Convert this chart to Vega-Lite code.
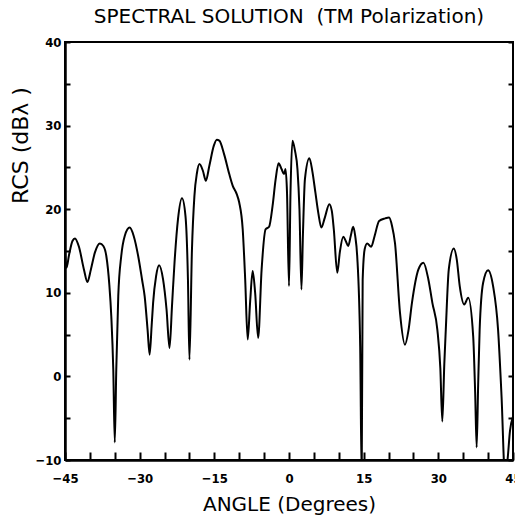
{
  "$schema": "https://vega.github.io/schema/vega-lite/v6.json",
  "width": 448,
  "height": 418,
  "autosize": {"type": "none"},
  "padding": {"left": 65, "top": 42, "right": 2, "bottom": 59},
  "background": "white",
  "title": {
    "text": "SPECTRAL SOLUTION \u00a0(TM Polarization)",
    "font": "DejaVu Sans",
    "fontSize": 20,
    "fontWeight": "normal",
    "color": "black",
    "anchor": "middle",
    "offset": 9
  },
  "config": {
    "view": {"stroke": "black", "strokeWidth": 2},
    "axis": {
      "domainColor": "black",
      "domainWidth": 2.5,
      "tickColor": "black",
      "tickWidth": 2,
      "grid": false,
      "labelColor": "black",
      "titleColor": "black",
      "labelFont": "DejaVu Sans Condensed, sans-serif",
      "labelFontWeight": "bold",
      "labelFontSize": 13,
      "titleFont": "DejaVu Sans",
      "titleFontWeight": "normal"
    }
  },
  "data": {
    "values": [
      {"angle": -45, "rcs": 14.8}, {"angle": -44.7, "rcs": 13.0}, {"angle": -44.2, "rcs": 14.5},
      {"angle": -43.5, "rcs": 16.2}, {"angle": -43, "rcs": 16.5}, {"angle": -42.2, "rcs": 15.5},
      {"angle": -41.2, "rcs": 12.8}, {"angle": -40.5, "rcs": 11.3}, {"angle": -39.8, "rcs": 12.8},
      {"angle": -39, "rcs": 14.8}, {"angle": -38, "rcs": 15.9}, {"angle": -37.3, "rcs": 15.6},
      {"angle": -36.7, "rcs": 14.4}, {"angle": -36.1, "rcs": 11.0}, {"angle": -35.7, "rcs": 7.2},
      {"angle": -35.3, "rcs": 0.8}, {"angle": -35, "rcs": -7.9}, {"angle": -34.7, "rcs": 0.8},
      {"angle": -34.3, "rcs": 9.6}, {"angle": -33.7, "rcs": 14.4}, {"angle": -33, "rcs": 16.8},
      {"angle": -32, "rcs": 17.8}, {"angle": -31.2, "rcs": 16.8}, {"angle": -30.3, "rcs": 14.4},
      {"angle": -29.5, "rcs": 11.5}, {"angle": -29, "rcs": 9.6}, {"angle": -28.4, "rcs": 5.5},
      {"angle": -28, "rcs": 2.6}, {"angle": -27.6, "rcs": 6.0}, {"angle": -27.3, "rcs": 8.8},
      {"angle": -26.7, "rcs": 12.0}, {"angle": -26.1, "rcs": 13.3}, {"angle": -25.3, "rcs": 11.6},
      {"angle": -24.6, "rcs": 8.0}, {"angle": -24, "rcs": 3.4}, {"angle": -23.5, "rcs": 8.5},
      {"angle": -23, "rcs": 13.6}, {"angle": -22.3, "rcs": 18.8}, {"angle": -21.5, "rcs": 21.3},
      {"angle": -20.8, "rcs": 19.2}, {"angle": -20.3, "rcs": 11.6}, {"angle": -20, "rcs": 2.0},
      {"angle": -19.5, "rcs": 15.1}, {"angle": -19, "rcs": 21.6}, {"angle": -18.5, "rcs": 24.3},
      {"angle": -18, "rcs": 25.4}, {"angle": -17.3, "rcs": 24.6}, {"angle": -16.7, "rcs": 23.4},
      {"angle": -16, "rcs": 25.2}, {"angle": -15.1, "rcs": 27.6}, {"angle": -14.5, "rcs": 28.3},
      {"angle": -14, "rcs": 28.2}, {"angle": -13, "rcs": 26.5}, {"angle": -12, "rcs": 24.2},
      {"angle": -11.3, "rcs": 22.8}, {"angle": -10.5, "rcs": 21.8}, {"angle": -10, "rcs": 20.8},
      {"angle": -9.3, "rcs": 17.6}, {"angle": -8.8, "rcs": 11.6}, {"angle": -8.3, "rcs": 4.4},
      {"angle": -7.8, "rcs": 9.0}, {"angle": -7.3, "rcs": 12.6}, {"angle": -6.8, "rcs": 10.0},
      {"angle": -6.2, "rcs": 4.6}, {"angle": -5.5, "rcs": 12.8}, {"angle": -4.7, "rcs": 17.6},
      {"angle": -4, "rcs": 17.9}, {"angle": -3.3, "rcs": 20.4}, {"angle": -2.7, "rcs": 23.5},
      {"angle": -2.1, "rcs": 25.5}, {"angle": -1.5, "rcs": 24.8}, {"angle": -1, "rcs": 24.2},
      {"angle": -0.7, "rcs": 24.8}, {"angle": -0.4, "rcs": 22}, {"angle": 0, "rcs": 10.8},
      {"angle": 0.3, "rcs": 22}, {"angle": 0.7, "rcs": 28.2}, {"angle": 1.2, "rcs": 27.0},
      {"angle": 1.7, "rcs": 24.8}, {"angle": 2.1, "rcs": 20}, {"angle": 2.5, "rcs": 10.4},
      {"angle": 2.8, "rcs": 17}, {"angle": 3.2, "rcs": 23.6}, {"angle": 4.1, "rcs": 26.1},
      {"angle": 4.7, "rcs": 24.5}, {"angle": 5.3, "rcs": 22.0}, {"angle": 5.9, "rcs": 19.5},
      {"angle": 6.5, "rcs": 17.8}, {"angle": 7.2, "rcs": 19.0}, {"angle": 8.1, "rcs": 20.6},
      {"angle": 8.6, "rcs": 19.8}, {"angle": 9.0, "rcs": 17.6}, {"angle": 9.7, "rcs": 12.4},
      {"angle": 10.2, "rcs": 14.8}, {"angle": 10.9, "rcs": 16.7}, {"angle": 11.4, "rcs": 16.2},
      {"angle": 11.9, "rcs": 15.6}, {"angle": 12.4, "rcs": 16.8}, {"angle": 12.9, "rcs": 17.9},
      {"angle": 13.3, "rcs": 16.8}, {"angle": 13.7, "rcs": 14.4}, {"angle": 14.3, "rcs": 3.6},
      {"angle": 14.6, "rcs": -12}, {"angle": 14.8, "rcs": 11.6}, {"angle": 15.2, "rcs": 15.2},
      {"angle": 15.7, "rcs": 15.9}, {"angle": 16.5, "rcs": 15.5}, {"angle": 17.2, "rcs": 16.8},
      {"angle": 18.1, "rcs": 18.6}, {"angle": 19.3, "rcs": 18.9}, {"angle": 20.1, "rcs": 19.0},
      {"angle": 20.7, "rcs": 18.0}, {"angle": 21.3, "rcs": 15.9}, {"angle": 22.3, "rcs": 7.6},
      {"angle": 23.3, "rcs": 3.8}, {"angle": 24.0, "rcs": 5.5}, {"angle": 24.7, "rcs": 8.8},
      {"angle": 26, "rcs": 12.8}, {"angle": 27, "rcs": 13.6}, {"angle": 28, "rcs": 11.6},
      {"angle": 28.8, "rcs": 8.8}, {"angle": 29.8, "rcs": 5.6}, {"angle": 30.4, "rcs": 1.0},
      {"angle": 30.8, "rcs": -5.4}, {"angle": 31.2, "rcs": 1.5}, {"angle": 31.5, "rcs": 5.6},
      {"angle": 32.1, "rcs": 12.8}, {"angle": 33.1, "rcs": 15.3}, {"angle": 33.7, "rcs": 14.0},
      {"angle": 34.3, "rcs": 10.8}, {"angle": 35.2, "rcs": 8.6}, {"angle": 36, "rcs": 9.4},
      {"angle": 37, "rcs": 4.8}, {"angle": 37.4, "rcs": -2}, {"angle": 37.7, "rcs": -8.5},
      {"angle": 38.0, "rcs": -1}, {"angle": 38.3, "rcs": 5.6}, {"angle": 39, "rcs": 11.2},
      {"angle": 40, "rcs": 12.7}, {"angle": 41, "rcs": 10.8}, {"angle": 42, "rcs": 5.6},
      {"angle": 42.7, "rcs": -2.4}, {"angle": 43.4, "rcs": -12}, {"angle": 43.9, "rcs": -10},
      {"angle": 44.4, "rcs": -6.5}, {"angle": 45, "rcs": -4.8}
    ]
  },
  "layer": [
    {
      "mark": {"type": "line", "color": "black", "strokeWidth": 2, "interpolate": "monotone", "clip": true},
      "encoding": {
        "x": {
          "field": "angle", "type": "quantitative",
          "scale": {"domain": [-45, 45], "nice": false, "zero": false},
          "axis": {
            "title": "ANGLE (Degrees)",
            "titleFontSize": 20,
            "titlePadding": 9,
            "values": [-45, -30, -15, 0, 15, 30, 45],
            "ticks": false,
            "labelPadding": 12,
            "labelFlush": false,
            "labelOverlap": false
          }
        },
        "y": {
          "field": "rcs", "type": "quantitative",
          "scale": {"domain": [-10, 40], "nice": false, "zero": false},
          "axis": {
            "title": "RCS (dBλ )",
            "titleFontSize": 22,
            "titleX": -33,
            "titleY": 103,
            "titleAlign": "center",
            "titleAngle": -90,
            "titleBaseline": "bottom",
            "values": [-10, 0, 10, 20, 30, 40],
            "ticks": false,
            "labelPadding": 4,
            "labelFlush": false,
            "labelOverlap": false
          }
        }
      }
    },
    {
      "mark": {"type": "rule", "opacity": 0},
      "encoding": {
        "x": {
          "datum": 0, "type": "quantitative",
          "scale": {"domain": [-45, 45], "nice": false, "zero": false},
          "axis": {
            "orient": "bottom",
            "offset": -8,
            "title": null,
            "labels": false,
            "domain": false,
            "values": [-45, -40, -35, -30, -25, -20, -15, -10, -5, 0, 5, 10, 15, 20, 25, 30, 35, 40, 45],
            "tickSize": 8
          }
        },
        "y": {
          "datum": 0, "type": "quantitative",
          "scale": {"domain": [-10, 40], "nice": false, "zero": false},
          "axis": {
            "orient": "right",
            "offset": -5,
            "title": null,
            "labels": false,
            "domain": false,
            "values": [-10, -5, 0, 5, 10, 15, 20, 25, 30, 35, 40],
            "tickSize": 5
          }
        }
      }
    },
    {
      "mark": {"type": "rule", "opacity": 0},
      "encoding": {
        "y": {
          "datum": 0, "type": "quantitative",
          "scale": {"domain": [-10, 40], "nice": false, "zero": false},
          "axis": {
            "orient": "left",
            "offset": -5,
            "title": null,
            "labels": false,
            "domain": false,
            "values": [-10, -5, 0, 5, 10, 15, 20, 25, 30, 35, 40],
            "tickSize": 5
          }
        }
      }
    }
  ],
  "resolve": {"scale": {"x": "shared", "y": "shared"}, "axis": {"x": "independent", "y": "independent"}}
}
